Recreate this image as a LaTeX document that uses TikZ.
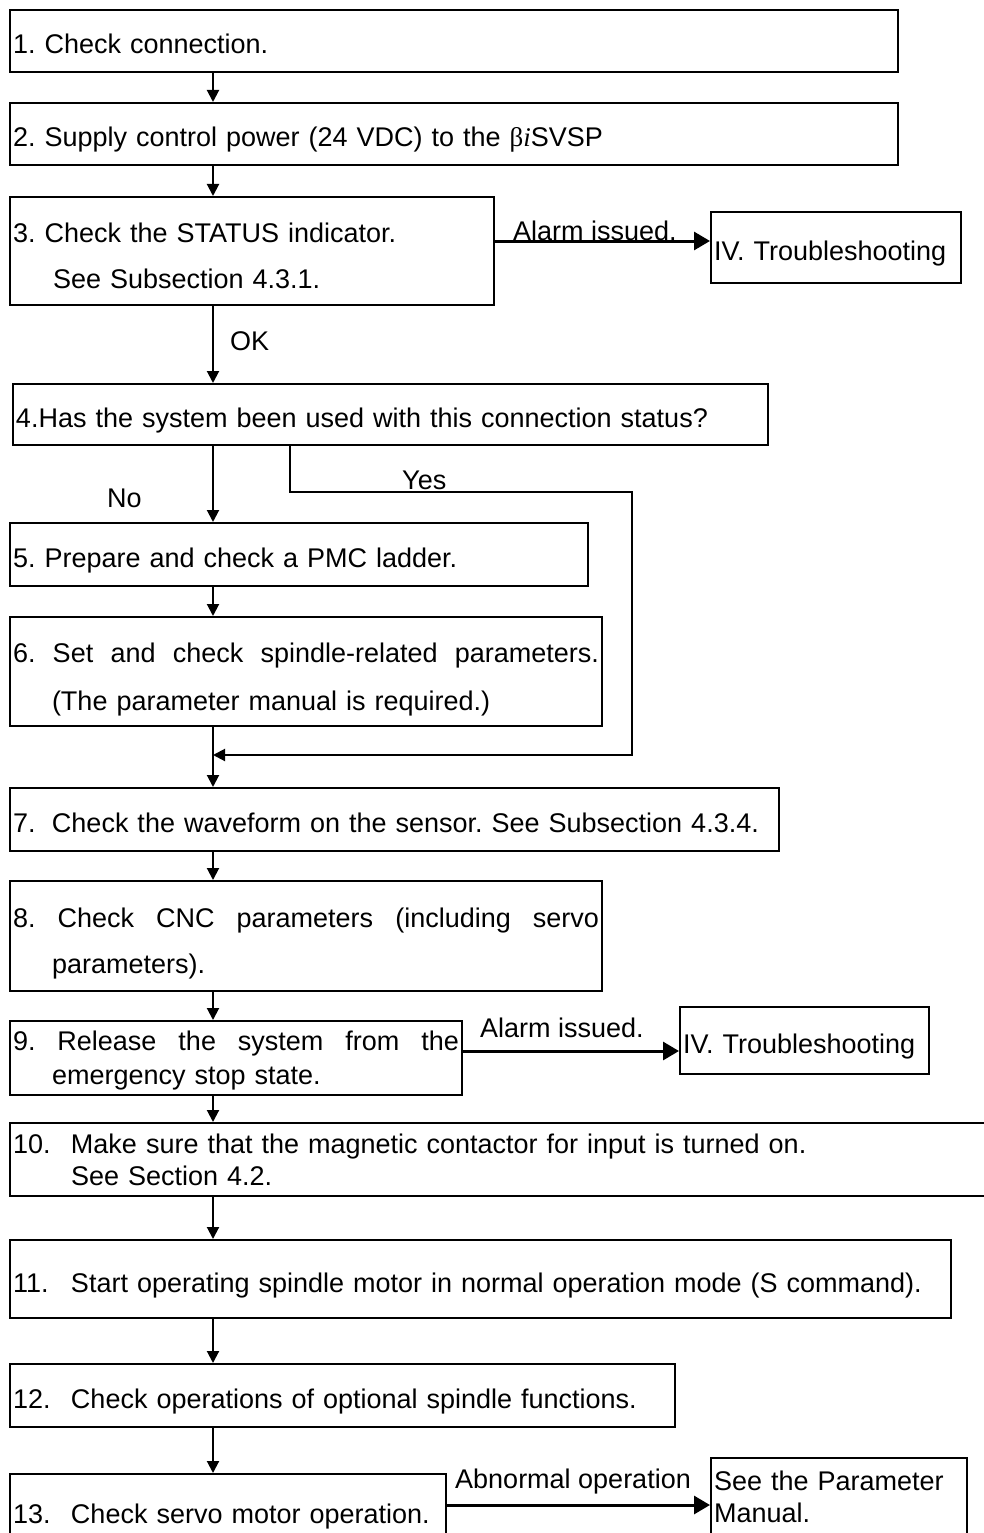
\documentclass[tikz,border=0pt]{standalone}
\usepackage{fontspec}
\setmainfont{Liberation Sans}
\newfontfamily\betafont{Liberation Serif}
\usepackage{tikz}
\usetikzlibrary{arrows.meta}
\frenchspacing

\begin{document}
\begin{tikzpicture}[
    x=1pt, y=-1pt,
    font=\fontsize{27}{32}\selectfont,
    stepbox/.style={draw, line width=2pt, anchor=north west, align=left,
                    inner xsep=3pt, inner ysep=0pt, text height=28pt, text depth=2pt},
    flow/.style={-{Triangle[length=12pt, width=12pt]}, line width=2pt},
    alarm/.style={-{Triangle[length=16pt, width=18pt]}, line width=3pt},
    note/.style={anchor=base west, inner sep=0pt}
  ]
    \clip (0,0) rectangle (984,1533);
    \coordinate (spine) at (213,0);
    \coordinate (yes) at (290,492);
    \coordinate (merge) at (213,755);

    % main column
    \node[stepbox, text width=882pt, minimum height=62pt] (s1) at (9,9) {1. Check connection.};
    \node[stepbox, text width=882pt, minimum height=62pt] (s2) at (9,102)
      {2. Supply control power (24 VDC) to the {\betafont β\itshape i}SVSP};
    \node[stepbox, text width=478pt, minimum height=108pt, text depth=46pt] (s3) at (9,196)
      {3. Check the STATUS indicator.\\[14pt]\hspace*{40pt}See Subsection 4.3.1.};
    \node[stepbox, text width=244pt, minimum height=71pt] (trouble1) at (710,211) {IV. Troubleshooting};
    \node[stepbox, text width=749pt, minimum height=61pt] (s4) at (12,383)
      {4.Has the system been used with this connection status?};
    \node[stepbox, text width=572pt, minimum height=63pt] (s5) at (9,522) {5. Prepare and check a PMC ladder.};
    \node[stepbox, text width=586pt, minimum height=109pt, text depth=47pt] (s6) at (9,616)
      {6.\hfill Set\hfill and\hfill check\hfill spindle-related\hfill parameters.\\[16pt]
       \hspace*{39pt}(The parameter manual is required.)};
    \node[stepbox, text width=763pt, minimum height=63pt] (s7) at (9,787)
      {\makebox[39pt][l]{7.}Check the waveform on the sensor. See Subsection 4.3.4.};
    \node[stepbox, text width=586pt, minimum height=110pt, text depth=46pt] (s8) at (9,880)
      {8.\hfill Check\hfill CNC\hfill parameters\hfill (including\hfill servo\\[14pt]
       \hspace*{39pt}parameters).};
    \node[stepbox, text width=446pt, minimum height=74pt, text depth=44pt] (s9) at (9,1020)
      {9.\hfill Release\hfill the\hfill system\hfill from\hfill the\\[2pt]
       \hspace*{39pt}emergency stop state.};
    \node[stepbox, text width=243pt, minimum height=67pt] (trouble2) at (679,1006) {IV. Troubleshooting};
    \node[stepbox, text width=985pt, minimum height=73pt, text depth=41pt] (s10) at (9,1122)
      {\makebox[58pt][l]{10.}Make sure that the magnetic contactor for input is turned on.\\
       \hspace*{58pt}See Section 4.2.};
    \node[stepbox, text width=935pt, minimum height=78pt] (s11) at (9,1239)
      {\makebox[58pt][l]{11.}Start operating spindle motor in normal operation mode (S command).};
    \node[stepbox, text width=659pt, minimum height=63pt] (s12) at (9,1363)
      {\makebox[58pt][l]{12.}Check operations of optional spindle functions.};
    \node[stepbox, text width=430pt, minimum height=72pt] (s13) at (9,1473)
      {\makebox[58pt][l]{13.}Check servo motor operation.};
    \node[stepbox, text width=250pt, minimum height=88pt, text depth=52pt] (manual) at (710,1457)
      {See the Parameter\\Manual.};

    % connectors
    \draw[flow] (s1.south -| spine) -- (s2.north -| spine);
    \draw[flow] (s2.south -| spine) -- (s3.north -| spine);
    \draw[flow] (s3.south -| spine) -- (s4.north -| spine);
    \draw[flow] (s4.south -| spine) -- (s5.north -| spine);
    \draw[flow] (s5.south -| spine) -- (s6.north -| spine);
    \draw[flow] (s6.south -| spine) -- (s7.north -| spine);
    \draw[flow] (s7.south -| spine) -- (s8.north -| spine);
    \draw[flow] (s8.south -| spine) -- (s9.north -| spine);
    \draw[flow] (s9.south -| spine) -- (s10.north -| spine);
    \draw[flow] (s10.south -| spine) -- (s11.north -| spine);
    \draw[flow] (s11.south -| spine) -- (s12.north -| spine);
    \draw[flow] (s12.south -| spine) -- (s13.north -| spine);
    \draw[flow] (s4.south -| yes) -- (yes) -- ++(342,0) |- (merge);
    \draw[alarm] ([yshift=10pt]s3.east) -- ([yshift=10pt]s3.east -| trouble1.west);
    \draw[alarm] ([yshift=7pt]s9.east) -- ([yshift=7pt]s9.east -| trouble2.west);
    \draw[alarm] ([yshift=5pt]s13.east) -- ([yshift=5pt]s13.east -| manual.west);

    % labels
    \node[note] (lok) at (230,350) {OK};
    \node[note] (lno) at (107,507) {No};
    \node[note] (lyes) at (402,489) {Yes};
    \node[note] (lalarm1) at (513,240) {Alarm issued.};
    \node[note] (lalarm2) at (480,1037) {Alarm issued.};
    \node[note] (labn) at (455,1488) {Abnormal operation};
  \end{tikzpicture}
\end{document}
